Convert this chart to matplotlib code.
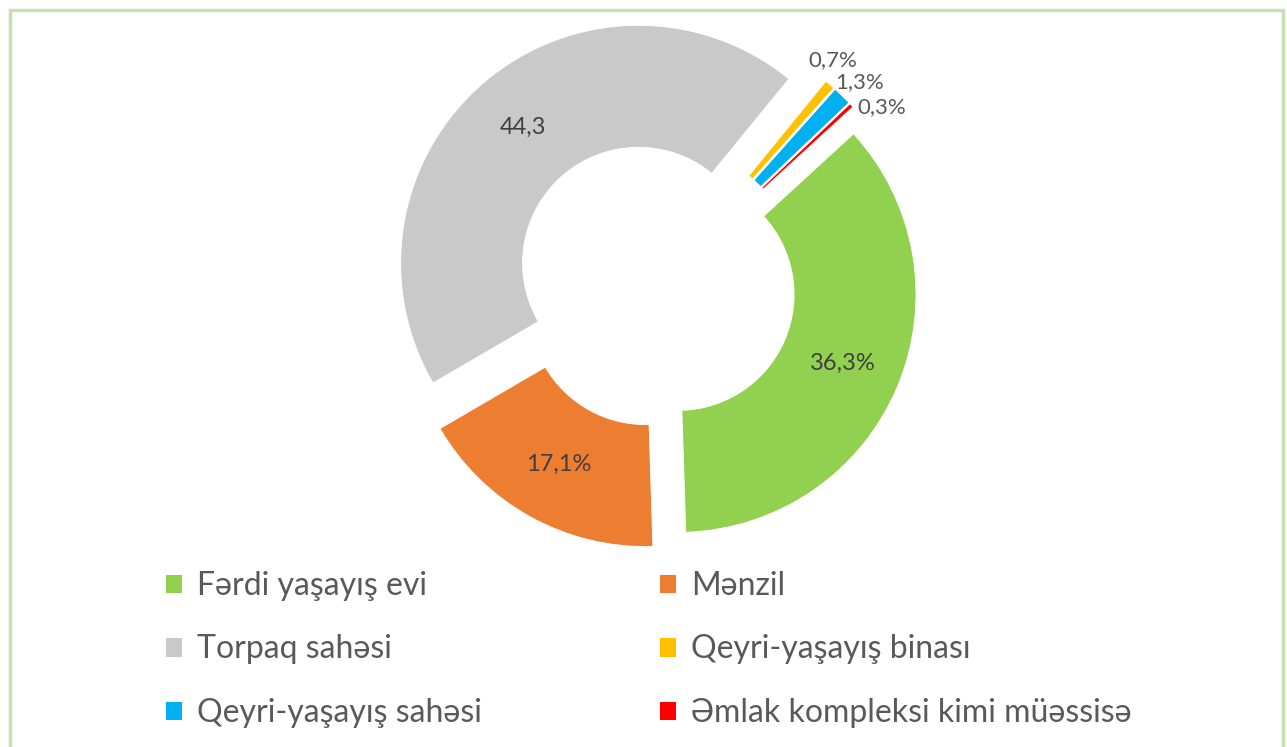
import matplotlib.pyplot as plt
from matplotlib.patches import Rectangle

# data (slices go clockwise from green)
categories = ['Fərdi yaşayış evi', 'Mənzil', 'Torpaq sahəsi',
              'Qeyri-yaşayış binası', 'Qeyri-yaşayış sahəsi',
              'Əmlak kompleksi kimi müəssisə']
shares = [36.3, 17.1, 44.3, 0.7, 1.3, 0.3]
value_labels = ['36,3%', '17,1%', '44,3', '0,7%', '1,3%', '0,3%']

colors = ['#92D050', '#ED7D31', '#C9C9C9', '#FFC000', '#00B0F0', '#FF0000']
explode = [0.092, 0.109, 0.126, 0.113, 0.113, 0.113]
# label spots for the three thin slices (data units)
small_label_pos = {3: (0.735, 0.950), 4: (0.849, 0.857), 5: (0.941, 0.752)}

plt.rcParams['font.family'] = ['Lato', 'Open Sans', 'DejaVu Sans']

fig = plt.figure(figsize=(12.87, 7.47), dpi=100)
ax = fig.add_axes([0.2432, 0.1553, 0.5361, 0.9237])
wedges, texts = ax.pie(shares, colors=colors, explode=explode, startangle=42.5,
                       counterclock=False, radius=1, labels=value_labels,
                       labeldistance=0.75,
                       wedgeprops=dict(width=0.513, edgecolor='white', linewidth=0.7),
                       textprops=dict(fontsize=17, color='#404040',
                                      ha='center', va='center'))
ax.set_xlim(-1.45, 1.45)
ax.set_ylim(-1.45, 1.45)
ax.axis('off')

for i, pos in small_label_pos.items():
    texts[i].set_position(pos)
    texts[i].set_color('#595959')
    texts[i].set_fontsize(16)

# legend is row-major in the reference -> reorder for ncol=2
order = [0, 2, 4, 1, 3, 5]
fig.legend([wedges[i] for i in order], [categories[i] for i in order],
           ncol=2, loc='upper left', bbox_to_anchor=(0.128, 0.236),
           frameon=False, fontsize=23, labelcolor='#595959',
           handlelength=0.55, handleheight=0.55, handletextpad=0.45,
           columnspacing=5.55, labelspacing=1.05, borderpad=0, borderaxespad=0)

# light green frame
fig.add_artist(Rectangle((10/1287, -0.05), (1283-10)/1287, 1 - 10/747 + 0.05,
                         transform=fig.transFigure, fill=False,
                         edgecolor='#C5E0B4', linewidth=2.5))

fig.savefig('out.png', dpi=100)
